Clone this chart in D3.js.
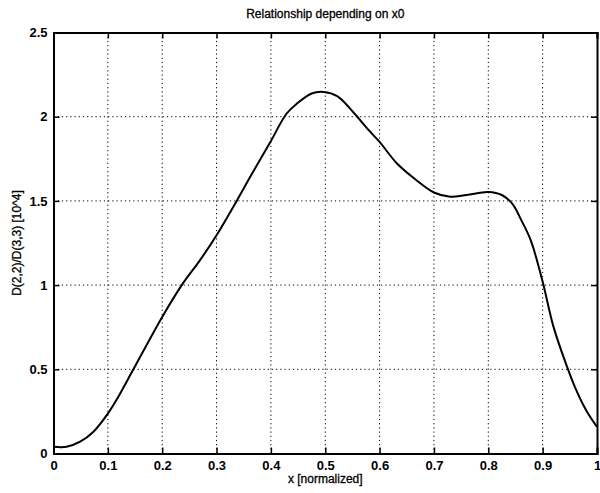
<!DOCTYPE html>
<html>
<head>
<meta charset="utf-8">
<script src="https://cdn.jsdelivr.net/npm/d3@7"></script>
<style>
  body { margin: 0; background: #fff; }
  svg text { font-family: "Liberation Sans", Arial, sans-serif; fill: #000; }
</style>
</head>
<body>
<div class="contenedor_grafico"></div>
<script>
// values
const xValues = [0, 0.024, 0.049, 0.073, 0.1, 0.119, 0.147, 0.2, 0.236, 0.27, 0.3, 0.337,
  0.362, 0.399, 0.429, 0.448, 0.475, 0.497, 0.522, 0.552, 0.58, 0.6, 0.632, 0.665, 0.7,
  0.73, 0.76, 0.8, 0.825, 0.845, 0.86, 0.878, 0.9, 0.92, 0.945, 0.96, 0.98, 1.0];
const yValues = [0.04, 0.04, 0.07, 0.128, 0.237, 0.336, 0.5, 0.811, 1.0, 1.15, 1.296, 1.5,
  1.643, 1.85, 2.019, 2.078, 2.138, 2.147, 2.122, 2.025, 1.92, 1.85, 1.722, 1.63, 1.55,
  1.525, 1.535, 1.553, 1.535, 1.48, 1.39, 1.267, 1.02, 0.752, 0.514, 0.39, 0.257, 0.158];
const xTicks = [0, 0.1, 0.2, 0.3, 0.4, 0.5, 0.6, 0.7, 0.8, 0.9, 1];
const yTicks = [0, 0.5, 1, 1.5, 2, 2.5];
const xTickLabels = ["0", "0.1", "0.2", "0.3", "0.4", "0.5", "0.6", "0.7", "0.8", "0.9", "1"];
const yTickLabels = ["0", "0.5", "1", "1.5", "2", "2.5"];

const width = 600;
const height = 493;
const plotLeft = 53.5, plotRight = 597, plotTop = 32.5, plotBottom = 453.5;

const svg = d3.select(".contenedor_grafico")
  .append("svg")
  .attr("width", width)
  .attr("height", height);

const xScale = d3.scaleLinear().domain([0, 1]).range([plotLeft, plotRight]);
const yScale = d3.scaleLinear().domain([0, 2.5]).range([plotBottom, plotTop]);

// dotted grid
svg.append("g")
  .selectAll("line")
  .data(xTicks.slice(1, -1))
  .enter()
  .append("line")
  .attr("x1", (d) => xScale(d))
  .attr("x2", (d) => xScale(d))
  .attr("y1", plotTop)
  .attr("y2", plotBottom)
  .attr("stroke", "#000")
  .attr("stroke-width", 1)
  .attr("stroke-dasharray", "1.2,3");

svg.append("g")
  .selectAll("line")
  .data(yTicks.slice(1, -1))
  .enter()
  .append("line")
  .attr("x1", plotLeft)
  .attr("x2", plotRight)
  .attr("y1", (d) => yScale(d))
  .attr("y2", (d) => yScale(d))
  .attr("stroke", "#000")
  .attr("stroke-width", 1)
  .attr("stroke-dasharray", "1.2,3");

// axes, ticks pointing inward like matlab
const xAxis = svg.append("g")
  .attr("transform", `translate(0, ${plotBottom})`)
  .call(d3.axisBottom(xScale).tickValues(xTicks).tickSize(-6).tickPadding(9)
    .tickFormat((d, i) => xTickLabels[i]));

const xAxisTop = svg.append("g")
  .attr("transform", `translate(0, ${plotTop})`)
  .call(d3.axisTop(xScale).tickValues(xTicks).tickSize(-6).tickFormat(""));

const yAxis = svg.append("g")
  .attr("transform", `translate(${plotLeft}, 0)`)
  .call(d3.axisLeft(yScale).tickValues(yTicks).tickSize(-6).tickPadding(6)
    .tickFormat((d, i) => yTickLabels[i]));

const yAxisRight = svg.append("g")
  .attr("transform", `translate(${plotRight}, 0)`)
  .call(d3.axisRight(yScale).tickValues(yTicks).tickSize(-6).tickFormat(""));

[xAxis, xAxisTop, yAxis, yAxisRight].forEach((g) => {
  g.select(".domain").attr("stroke", "#000").attr("stroke-width", 2);
  g.selectAll(".tick line").attr("stroke", "#000").attr("stroke-width", 1.5);
  g.selectAll("text")
    .style("font-size", "13px")
    .style("font-weight", "bold")
    .attr("fill", "#000");
});
xAxis.selectAll("text").attr("dy", "0.6em");

// curve
const line = d3.line()
  .x((d, i) => xScale(xValues[i]))
  .y((d, i) => yScale(d))
  .curve(d3.curveCatmullRom.alpha(0.5));

svg.append("path")
  .datum(yValues)
  .attr("d", line)
  .attr("fill", "none")
  .attr("stroke", "#000")
  .attr("stroke-width", 2);

// labels
svg.append("text")
  .attr("x", (plotLeft + plotRight) / 2)
  .attr("y", 18)
  .attr("text-anchor", "middle")
  .style("font-size", "12px")
  .attr("stroke", "#000")
  .attr("stroke-width", 0.3)
  .text("Relationship depending on x0");

svg.append("text")
  .attr("x", (plotLeft + plotRight) / 2)
  .attr("y", 483)
  .attr("text-anchor", "middle")
  .style("font-size", "12px")
  .attr("stroke", "#000")
  .attr("stroke-width", 0.3)
  .text("x [normalized]");

svg.append("text")
  .attr("transform", `translate(21, ${(plotTop + plotBottom) / 2}) rotate(-90)`)
  .attr("text-anchor", "middle")
  .style("font-size", "12px")
  .attr("stroke", "#000")
  .attr("stroke-width", 0.3)
  .text("D(2,2)/D(3,3) [10^4]");
</script>
</body>
</html>
